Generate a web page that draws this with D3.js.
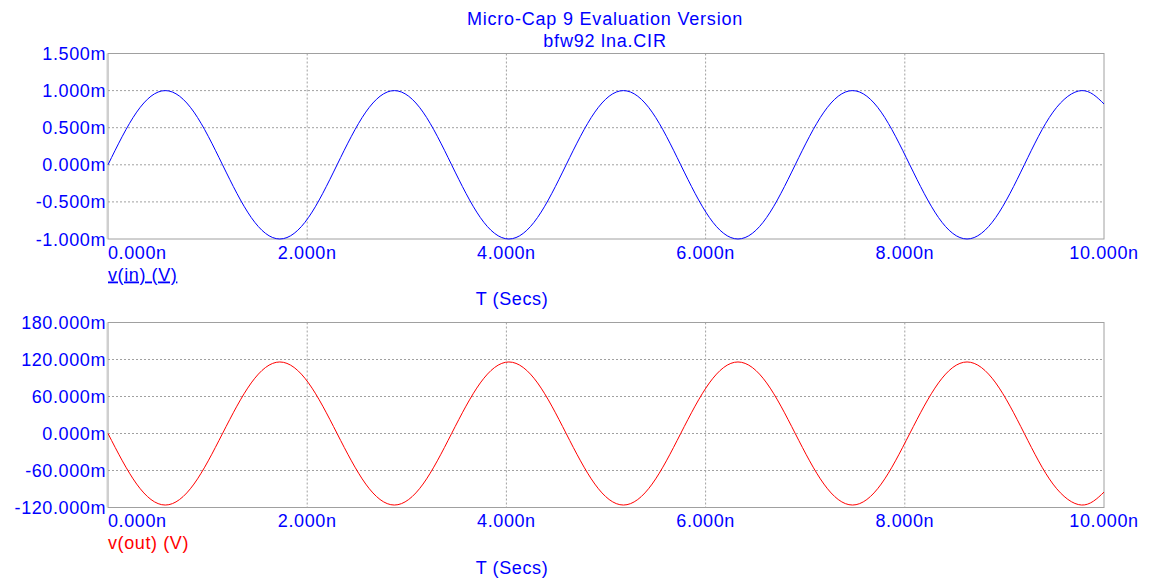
<!DOCTYPE html>
<html>
<head>
<meta charset="utf-8">
<script src="https://cdn.jsdelivr.net/npm/d3@7"></script>
<style>
  body { margin: 0; background: #fff; }
  svg text { font-family: "Liberation Sans", Arial, sans-serif; }
</style>
</head>
<body>
<div id="vis"></div>
<script>
var width = 1156;
var height = 579;

// sample times (ns)
var timeNs = [0.000, 0.288, 0.575, 0.863, 1.150, 1.438, 1.725, 2.013, 2.300, 2.588,
  2.875, 3.163, 3.450, 3.738, 4.025, 4.313, 4.600, 4.888, 5.175, 5.463,
  5.750, 6.038, 6.325, 6.613, 6.900, 7.188, 7.475, 7.763, 8.050, 8.338,
  8.625, 8.913, 9.200, 9.488, 9.775, 10.000];

// v(in) in mV
var vIn = [0, 0.71, 1.00, 0.71, 0, -0.71, -1.00, -0.71, 0, 0.71,
  1.00, 0.71, 0, -0.71, -1.00, -0.71, 0, 0.71, 1.00, 0.71,
  0, -0.71, -1.00, -0.71, 0, 0.71, 1.00, 0.71, 0, -0.71,
  -1.00, -0.71, 0, 0.71, 1.00, 0.82];

// v(out) in mV
var vOut = [0, -82, -116, -82, 0, 82, 116, 82, 0, -82,
  -116, -82, 0, 82, 116, 82, 0, -82, -116, -82,
  0, 82, 116, 82, 0, -82, -116, -82, 0, 82,
  116, 82, 0, -82, -116, -95];

var xTicks = [0, 2, 4, 6, 8, 10];
var inTicks = [-1.0, -0.5, 0, 0.5, 1.0, 1.5];
var outTicks = [-120, -60, 0, 60, 120, 180];

var blue = '#0000ff';
var red = '#ff0000';
var gridCol = '#a0a0a0';

// plain hyphen for negatives, like the original plot
var fmt3 = d3.formatLocale({
  decimal: '.', thousands: ',', grouping: [3], currency: ['', ''], minus: '-'
}).format('.3f');

var svg = d3.select('#vis').append('svg')
  .attr('width', width)
  .attr('height', height);

// titles
svg.append('text')
  .attr('x', 605).attr('y', 25)
  .attr('text-anchor', 'middle')
  .attr('fill', blue)
  .style('font-size', '18px')
  .style('letter-spacing', '0.8px')
  .text('Micro-Cap 9 Evaluation Version');
svg.append('text')
  .attr('x', 605).attr('y', 46.5)
  .attr('text-anchor', 'middle')
  .attr('fill', blue)
  .style('font-size', '18px')
  .style('letter-spacing', '0.8px')
  .text('bfw92 lna.CIR');

var x = d3.scaleLinear().domain([0, 10]).range([108, 1104]);

function panel(opts) {
  var y = d3.scaleLinear().domain(opts.domain).range([opts.bottom, opts.top]);
  var g = svg.append('g');

  // grid
  g.selectAll('.vgrid')
    .data(xTicks.slice(1, -1))
    .enter().append('line')
    .attr('x1', d => x(d)).attr('x2', d => x(d))
    .attr('y1', opts.top).attr('y2', opts.bottom)
    .attr('stroke', gridCol)
    .attr('stroke-dasharray', '2,2');
  g.selectAll('.hgrid')
    .data(opts.ticks.slice(1, -1))
    .enter().append('line')
    .attr('x1', x(0)).attr('x2', x(10))
    .attr('y1', d => y(d)).attr('y2', d => y(d))
    .attr('stroke', gridCol)
    .attr('stroke-dasharray', '2,2');

  // frame
  g.append('rect')
    .attr('x', x(0)).attr('y', opts.top)
    .attr('width', x(10) - x(0)).attr('height', opts.bottom - opts.top)
    .attr('fill', 'none')
    .attr('stroke', gridCol);
  g.append('line')
    .attr('x1', x(0) - 1).attr('x2', x(0) - 1)
    .attr('y1', opts.top).attr('y2', opts.bottom)
    .attr('stroke', '#d0d0d0');

  // y tick labels
  g.selectAll('.ylab')
    .data(opts.ticks)
    .enter().append('text')
    .attr('x', 106)
    .attr('y', d => y(d) + 6.5)
    .attr('text-anchor', 'end')
    .attr('fill', blue)
    .style('font-size', '18px')
    .style('letter-spacing', '0.6px')
    .text(d => fmt3(d) + 'm');

  // x tick labels
  g.selectAll('.xlab')
    .data(xTicks)
    .enter().append('text')
    .attr('x', d => x(d))
    .attr('y', opts.bottom + 19.5)
    .attr('text-anchor', d => d === 0 ? 'start' : 'middle')
    .attr('fill', blue)
    .style('font-size', '18px')
    .style('letter-spacing', '0.6px')
    .text(d => fmt3(d) + 'n');

  // trace label
  g.append('text')
    .attr('x', x(0))
    .attr('y', opts.bottom + 41.5)
    .attr('fill', opts.color)
    .style('font-size', '18px')
    .style('letter-spacing', '0.6px')
    .style('text-decoration', opts.underline ? 'underline' : 'none')
    .text(opts.label);

  g.append('text')
    .attr('x', 512)
    .attr('y', opts.bottom + 66)
    .attr('text-anchor', 'middle')
    .attr('fill', blue)
    .style('font-size', '18px')
    .style('letter-spacing', '0.6px')
    .text('T (Secs)');

  var line = d3.line()
    .x((d, i) => x(timeNs[i]))
    .y(d => y(d))
    .curve(d3.curveNatural);

  g.append('path')
    .datum(opts.values)
    .attr('d', line)
    .attr('fill', 'none')
    .attr('stroke', opts.color)
    .attr('stroke-width', 1);
}

panel({
  top: 53.5, bottom: 239, domain: [-1.0, 1.5], ticks: inTicks,
  values: vIn, color: blue, label: 'v(in) (V)', underline: true
});

panel({
  top: 322.5, bottom: 507.5, domain: [-120, 180], ticks: outTicks,
  values: vOut, color: red, label: 'v(out) (V)', underline: false
});
</script>
</body>
</html>
